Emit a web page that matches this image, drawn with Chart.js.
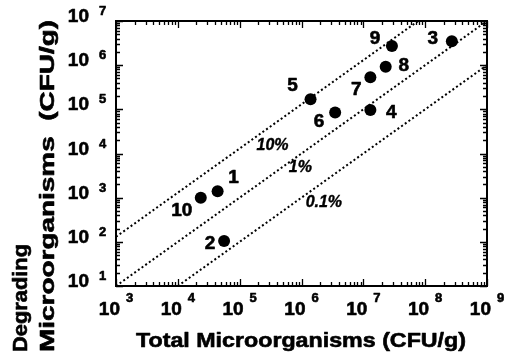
<!DOCTYPE html>
<html>
<head>
<meta charset="utf-8">
<script src="https://cdn.jsdelivr.net/npm/chart.js@4.4.1/dist/chart.umd.min.js"></script>
<style>
html, body { margin: 0; padding: 0; background: #fff; }
#wrap { width: 508px; height: 354px; }
</style>
</head>
<body>
<div id="wrap"><canvas id="chart" width="508" height="354"></canvas></div>
<script>
// sample numbers and the two counts (CFU/g)
var sampleLabels = ['1', '2', '3', '4', '5', '6', '7', '8', '9', '10'];
var totalCounts = [4.4e4, 5.6e4, 2.7e8, 1.3e7, 1.4e6, 3.5e6, 1.3e7, 2.3e7, 2.9e7, 2.35e4];
var degradingCounts = [1.4e3, 1.05e2, 3.5e6, 9.6e4, 1.7e5, 8.5e4, 5.3e5, 9.2e5, 2.7e6, 1.0e3];

// dotted ratio lines (degrading / total), end points
var ratioLabels = ['10%', '1%', '0.1%'];
var ratioStartX = [1e3, 1e3, 1e4];
var ratioStartY = [1.3e2, 1e1, 1e1];
var ratioEndX = [7.7e7, 1e9, 1e9];
var ratioEndY = [1e7, 1e7, 1e6];

// axis decades (tick labels are 10^n)
var xExponents = [3, 4, 5, 6, 7, 8, 9];
var yExponents = [1, 2, 3, 4, 5, 6, 7];

var FONT = '"Liberation Sans", Arial, sans-serif';

// where the number next to each point sits, in px from the dot
var labelOffsets = [[16, -14], [-14, 2], [-19, -3], [21, 2], [-18, -14], [-16, 8], [-14, 11], [18, -2], [-17, -8], [-19, 12]];
// where the ratio labels sit, in data units
var ratioLabelAt = [[3.4e5, 1.55e4], [9.6e5, 5.1e3], [2.3e6, 8.1e2]];

// filled text with a thin outline so it reads as heavy as the scan
function heavyText(ctx, text, x, y) {
    ctx.fillText(text, x, y);
    ctx.strokeText(text, x, y);
}

// draws text stretched to a given length
function fitText(ctx, text, x, y, len) {
    const w = ctx.measureText(text).width;
    ctx.save();
    ctx.translate(x, y);
    ctx.scale(len / w, 1);
    heavyText(ctx, text, 0, 0);
    ctx.restore();
}

const framePlugin = {
    id: 'frame',
    afterDraw: function(chart) {
        const ctx = chart.ctx;
        const a = chart.chartArea;
        const xs = chart.scales.x;
        const ys = chart.scales.y;
        ctx.save();
        ctx.strokeStyle = '#000';
        ctx.fillStyle = '#000';

        // minor and major ticks pointing inward on all four sides
        ctx.lineWidth = 1.3;
        ctx.beginPath();
        for (let i = 0; i < xExponents.length; i++) {
            for (let m = 1; m <= 9; m++) {
                if (i == xExponents.length - 1 && m > 1) break;
                const px = Math.round(xs.getPixelForValue(m * Math.pow(10, xExponents[i]))) + 0.5;
                const len = m == 1 ? 7 : 4;
                ctx.moveTo(px, a.bottom); ctx.lineTo(px, a.bottom - len);
                ctx.moveTo(px, a.top); ctx.lineTo(px, a.top + len);
            }
        }
        for (let i = 0; i < yExponents.length; i++) {
            for (let m = 1; m <= 9; m++) {
                if (i == yExponents.length - 1 && m > 1) break;
                const py = Math.round(ys.getPixelForValue(m * Math.pow(10, yExponents[i]))) + 0.5;
                const len = m == 1 ? 7 : 4;
                ctx.moveTo(a.left, py); ctx.lineTo(a.left + len, py);
                ctx.moveTo(a.right, py); ctx.lineTo(a.right - len, py);
            }
        }
        ctx.stroke();

        ctx.lineWidth = 2;
        ctx.strokeRect(a.left, a.top, a.right - a.left, a.bottom - a.top);

        ctx.lineWidth = 0.6;
        ctx.lineJoin = 'round';

        // tick labels, 10 with a raised exponent
        const big = 'bold 19px ' + FONT;
        const small = 'bold 13px ' + FONT;
        ctx.textBaseline = 'alphabetic';
        xExponents.forEach(function(e) {
            const px = xs.getPixelForValue(Math.pow(10, e));
            ctx.font = big;
            const w10 = ctx.measureText('10').width;
            ctx.font = small;
            const we = ctx.measureText(String(e)).width;
            const start = px - (w10 + 6 + we) / 2;
            ctx.font = big;
            ctx.textAlign = 'left';
            heavyText(ctx, '10', start, a.bottom + 29);
            ctx.font = small;
            heavyText(ctx, String(e), start + w10 + 6, a.bottom + 16);
        });
        yExponents.forEach(function(e) {
            const py = ys.getPixelForValue(Math.pow(10, e));
            ctx.font = big;
            ctx.textAlign = 'right';
            heavyText(ctx, '10', a.left - 27, py + 1);
            ctx.font = small;
            ctx.textAlign = 'left';
            heavyText(ctx, String(e), a.left - 17, py - 6);
        });

        // axis titles
        ctx.font = 'bold 20px ' + FONT;
        ctx.textAlign = 'left';
        fitText(ctx, 'Total Microorganisms (CFU/g)', 136, 347, 330);
        ctx.save();
        ctx.translate(0, 352);
        ctx.rotate(-Math.PI / 2);
        fitText(ctx, 'Degrading', 0, 27, 108);
        fitText(ctx, 'Microorganisms  (CFU/g)', 0, 54, 332);
        ctx.restore();

        // sample numbers
        ctx.font = 'bold 19px ' + FONT;
        ctx.textAlign = 'center';
        ctx.textBaseline = 'middle';
        sampleLabels.forEach(function(s, i) {
            const px = xs.getPixelForValue(totalCounts[i]) + labelOffsets[i][0];
            const py = ys.getPixelForValue(degradingCounts[i]) + labelOffsets[i][1];
            heavyText(ctx, s, px, py + 1);
        });

        // ratio labels
        ctx.font = 'italic bold 16px ' + FONT;
        ctx.lineWidth = 0.4;
        ratioLabels.forEach(function(s, i) {
            heavyText(ctx, s, xs.getPixelForValue(ratioLabelAt[i][0]), ys.getPixelForValue(ratioLabelAt[i][1]) + 1);
        });
        ctx.restore();
    }
};

const points = totalCounts.map(function(x, i) { return {x: x, y: degradingCounts[i]}; });
const datasets = [{
    label: 'Samples',
    data: points,
    pointRadius: 6,
    pointBackgroundColor: '#000',
    pointBorderWidth: 0,
    showLine: false
}];
ratioLabels.forEach(function(r, i) {
    datasets.push({
        label: r,
        data: [{x: ratioStartX[i], y: ratioStartY[i]}, {x: ratioEndX[i], y: ratioEndY[i]}],
        showLine: true,
        borderColor: '#000',
        borderWidth: 2,
        borderDash: [2, 2.5],
        pointRadius: 0
    });
});

const ctx = document.getElementById('chart').getContext('2d');
new Chart(ctx, {
    type: 'scatter',
    data: { datasets: datasets },
    options: {
        responsive: false,
        animation: false,
        layout: { padding: { top: 21, right: 21, left: 0, bottom: 0 } },
        plugins: { legend: { display: false }, tooltip: { enabled: false } },
        scales: {
            x: {
                type: 'logarithmic', min: 1e3, max: 1e9,
                ticks: { display: false },
                grid: { display: false },
                border: { display: false },
                afterFit: function(s) { s.height = 68; }
            },
            y: {
                type: 'logarithmic', min: 1e1, max: 1e7,
                ticks: { display: false },
                grid: { display: false },
                border: { display: false },
                afterFit: function(s) { s.width = 116; }
            }
        }
    },
    plugins: [framePlugin]
});
</script>
</body>
</html>
